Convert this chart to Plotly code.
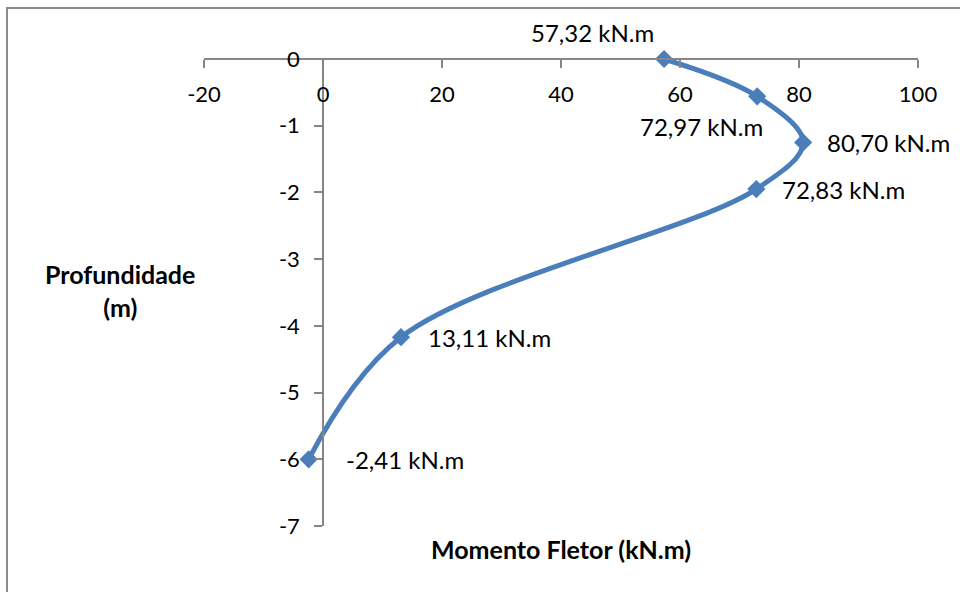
import plotly.graph_objects as go

# Bending moment along the pile depth
momento = [57.32, 72.97, 80.70, 72.83, 13.11, -2.41]
profundidade = [0.0, -0.56, -1.25, -1.95, -4.17, -6.0]
rotulos = [f"{v:.2f}".replace(".", ",") + " kN.m" for v in momento]

x_ticks = [-20, 0, 20, 40, 60, 80, 100]
y_ticks = [0, -1, -2, -3, -4, -5, -6, -7]

FONT = "Lato, 'Open Sans', sans-serif"
AXIS_GRAY = "#868686"
BLUE = "#4A7EBB"

fig = go.Figure()
fig.add_trace(go.Scatter(
    x=momento, y=profundidade,
    mode="lines+markers",
    line=dict(color=BLUE, width=5, shape="spline", smoothing=1),
    marker=dict(symbol="diamond", size=14, color=BLUE),
    cliponaxis=False,
    hoverinfo="skip",
))

# label placement (pixel offsets from each point, anchor side)
placement = [
    (-72, 27, "center"),
    (-56, -30, "center"),
    (22, 0, "left"),
    (24, 0, "left"),
    (25, 0, "left"),
    (35, 0, "left"),
]
for xv, yv, txt, (dx, dy, anc) in zip(momento, profundidade, rotulos, placement):
    fig.add_annotation(
        x=xv, y=yv, xref="x", yref="y", text=txt, showarrow=False,
        xshift=dx, yshift=dy, xanchor=anc, yanchor="middle",
        font=dict(family=FONT, size=24, color="#000000"),
    )

# axis titles
fig.add_annotation(
    x=0.5, y=-23 / 467, xref="paper", yref="paper", yanchor="middle",
    text="<b>Momento Fletor (kN.m)</b>", showarrow=False,
    font=dict(family=FONT, size=25, color="#000000"),
)
fig.add_annotation(
    x=-0.117, y=0.505, xref="paper", yref="paper", xanchor="center", yanchor="middle",
    text="<b>Profundidade<br>(m)</b>", showarrow=False, align="center",
    font=dict(family=FONT, size=25, color="#000000"),
)

# chart frame
fig.add_shape(
    type="rect", xref="paper", yref="paper",
    x0=-197 / 714, x1=1.2, y0=-0.2, y1=1 + 51 / 467,
    line=dict(color="#8C8C8C", width=2), fillcolor="rgba(0,0,0,0)", layer="below",
)

fig.update_layout(
    width=960, height=592,
    margin=dict(l=204, r=42, t=59, b=66),
    paper_bgcolor="white", plot_bgcolor="white",
    showlegend=False,
    font=dict(family=FONT, size=22, color="#000000"),
    xaxis=dict(
        range=[-20, 100], tickvals=x_ticks, ticktext=[str(t) for t in x_ticks],
        anchor="free", position=1, side="bottom",
        showline=True, linecolor=AXIS_GRAY, linewidth=1.5,
        ticks="outside", ticklen=8, tickwidth=1.5, tickcolor=AXIS_GRAY,
        ticklabelstandoff=8,
        showgrid=False, zeroline=False,
        tickfont=dict(family=FONT, size=22, color="#000000"),
    ),
    yaxis=dict(
        range=[-7, 0], tickvals=y_ticks, ticktext=[str(t) for t in y_ticks],
        anchor="free", position=20 / 120, side="left",
        showline=True, linecolor=AXIS_GRAY, linewidth=1.5,
        ticks="outside", ticklen=8, tickwidth=1.5, tickcolor=AXIS_GRAY,
        ticklabelstandoff=10,
        showgrid=False, zeroline=False,
        tickfont=dict(family=FONT, size=22, color="#000000"),
    ),
)

fig.write_html("out.html")
